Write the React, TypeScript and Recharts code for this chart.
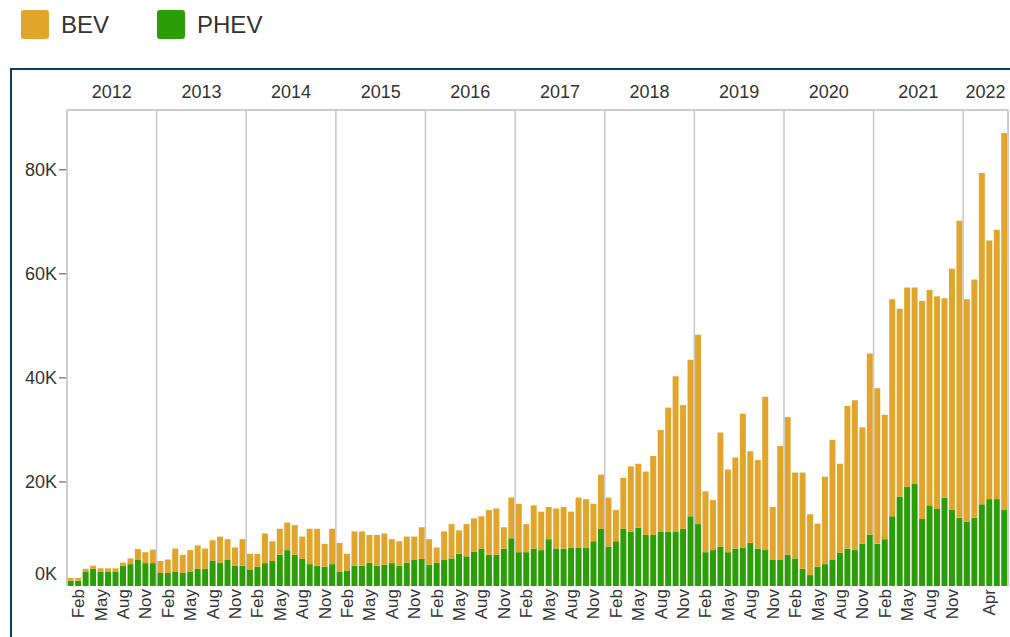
import { Bar, BarChart, XAxis, YAxis } from "recharts";

// monthly EV sales, thousands of vehicles
const years = [2012, 2013, 2014, 2015, 2016, 2017, 2018, 2019, 2020, 2021, 2022];
const monthNames = ["Jan", "Feb", "Mar", "Apr", "May", "Jun", "Jul", "Aug", "Sep", "Oct", "Nov", "Dec"];

const phevK = [
  [1.0, 1.0, 2.8, 3.3, 2.8, 2.8, 2.8, 3.9, 4.2, 5.0, 4.4, 4.4],
  [2.5, 2.5, 2.8, 2.5, 2.8, 3.3, 3.3, 4.9, 4.5, 5.1, 3.9, 3.9],
  [3.2, 3.7, 4.4, 4.8, 6.0, 6.9, 6.0, 5.2, 4.2, 3.9, 3.7, 4.2],
  [2.7, 3.0, 3.9, 3.9, 4.5, 3.9, 4.1, 4.4, 3.9, 4.5, 5.1, 5.2],
  [4.1, 4.5, 5.1, 5.3, 6.2, 5.7, 6.6, 7.2, 6.0, 6.0, 7.2, 9.2],
  [6.5, 6.5, 7.2, 6.9, 9.0, 7.2, 7.2, 7.4, 7.4, 7.4, 8.6, 11.0],
  [7.6, 8.6, 11.0, 10.4, 11.2, 9.8, 9.8, 10.4, 10.4, 10.4, 11.0, 13.4],
  [11.9, 6.5, 6.9, 7.6, 6.5, 7.2, 7.4, 8.3, 7.2, 6.9, 5.1, 5.1],
  [6.0, 5.3, 3.3, 2.1, 3.7, 4.2, 5.1, 6.4, 7.2, 6.9, 8.1, 9.9],
  [8.1, 9.0, 13.4, 17.2, 19.1, 19.6, 12.9, 15.5, 14.8, 17.0, 14.6, 13.1],
  [12.4, 13.1, 15.7, 16.7, 16.7, 14.6],
];

const bevK = [
  [0.55, 0.55, 0.5, 0.6, 0.6, 0.6, 0.6, 0.6, 1.1, 2.1, 2.1, 2.6],
  [2.3, 2.6, 4.4, 3.5, 4.1, 4.5, 3.9, 3.9, 5.0, 3.9, 3.5, 5.1],
  [3.0, 2.5, 5.7, 3.8, 5.0, 5.3, 5.7, 4.3, 6.8, 7.1, 4.4, 6.8],
  [5.6, 3.2, 6.6, 6.6, 5.3, 5.9, 6.0, 4.6, 4.7, 5.0, 4.4, 6.1],
  [4.9, 2.9, 5.4, 6.6, 4.5, 6.2, 6.4, 6.2, 8.6, 8.9, 4.1, 7.8],
  [9.3, 5.4, 8.3, 7.4, 6.2, 7.7, 8.0, 6.9, 9.6, 9.3, 7.2, 10.4],
  [9.4, 6.0, 9.8, 12.6, 12.3, 12.2, 15.2, 19.6, 23.9, 29.9, 23.8, 30.1],
  [36.4, 11.7, 9.6, 21.9, 15.9, 17.5, 25.7, 17.6, 17.0, 29.5, 10.1, 21.8],
  [26.5, 16.5, 18.5, 11.7, 8.3, 16.8, 23.0, 17.1, 27.4, 28.8, 22.4, 34.8],
  [29.9, 23.9, 41.7, 36.1, 38.3, 37.8, 41.9, 41.4, 40.9, 38.3, 46.4, 57.1],
  [42.7, 45.8, 63.7, 49.7, 51.8, 72.5],
];

const yTicks = [0, 20, 40, 60, 80];
const monthLabels = ["Feb", "May", "Aug", "Nov"];
const lastYearLabels = ["Apr"];

const BEV_COLOR = "#E2A52C";
const PHEV_COLOR = "#2B9E07";
const TEXT = "#333333";
const FONT = "Arial, 'Liberation Sans', sans-serif";

const W = 1010;
const H = 637;
const MARGIN = { top: 70, right: 1, bottom: 1, left: 10 };
const YEAR_AXIS_H = 40;
const MONTH_AXIS_H = 50;
const Y_AXIS_W = 57;
const PLOT_LEFT = MARGIN.left + Y_AXIS_W;
const PLOT_TOP = MARGIN.top + YEAR_AXIS_H;
const PLOT_BOTTOM = H - MARGIN.bottom - MONTH_AXIS_H;
const PLOT_W = W - PLOT_LEFT - MARGIN.right - 1;

const data = years.flatMap((yr, yi) =>
  phevK[yi].map((p, mi) => ({
    key: `${yr}-${mi + 1}`,
    year: yr,
    month: monthNames[mi],
    PHEV: p,
    BEV: bevK[yi][mi],
  }))
);

const lastYear = years[years.length - 1];
const monthTicks = data
  .filter((d) => (d.year === lastYear ? lastYearLabels : monthLabels).includes(d.month))
  .map((d) => d.key);
const yearTicks = data.filter((d) => d.month === "Jan").map((d) => d.key);
const HALF_STEP = PLOT_W / data.length / 2;

function YearTick(props: any) {
  const { x, payload, index } = props;
  const half = payload?.offset || HALF_STEP;
  const yr = Number(String(payload.value).slice(0, 4));
  const count = data.filter((d) => d.year === yr).length;
  const left = x - half;
  return (
    <g>
      {index > 0 && (
        <line x1={left} x2={left} y1={PLOT_TOP} y2={PLOT_BOTTOM} stroke="#c8c8c8" strokeWidth={1.5} />
      )}
      <text x={left + count * half} y={PLOT_TOP - 12} textAnchor="middle" fontSize={18} fill={TEXT} fontFamily={FONT}>
        {yr}
      </text>
    </g>
  );
}

function MonthTick(props: any) {
  const { x, payload } = props;
  const d = data.find((r) => r.key === payload.value);
  return (
    <text
      transform={`translate(${x},${PLOT_BOTTOM + 3}) rotate(-90)`}
      textAnchor="end"
      dy="0.35em"
      fontSize={17}
      fill={TEXT}
      fontFamily={FONT}
    >
      {d?.month}
    </text>
  );
}

// 0K sits a little above the baseline and has no dash, like the original
function ValueTick(props: any) {
  const { y, payload } = props;
  const isZero = payload.value === 0;
  return (
    <g>
      {!isZero && <line x1={PLOT_LEFT - 8} x2={PLOT_LEFT - 1} y1={y} y2={y} stroke="#444" strokeWidth={1} />}
      <text
        x={PLOT_LEFT - 10}
        y={y + (isZero ? -12 : 0)}
        dy="0.35em"
        textAnchor="end"
        fontSize={18}
        fill={TEXT}
        fontFamily={FONT}
      >
        {payload.value}K
      </text>
    </g>
  );
}

function LegendItem({ color, label }: { color: string; label: string }) {
  return (
    <div style={{ display: "flex", alignItems: "center", marginRight: 48 }}>
      <div style={{ width: 28, height: 29, background: color, borderRadius: 3, marginRight: 12 }} />
      <span style={{ fontSize: 24, color: TEXT }}>{label}</span>
    </div>
  );
}

export default function App() {
  return (
    <div style={{ position: "absolute", left: 0, top: 0, width: W, height: H, background: "#fff", fontFamily: FONT, overflow: "hidden" }}>
      <div style={{ position: "absolute", left: 21, top: 10, display: "flex" }}>
        <LegendItem color={BEV_COLOR} label="BEV" />
        <LegendItem color={PHEV_COLOR} label="PHEV" />
      </div>
      <div
        style={{
          position: "absolute",
          left: 10,
          top: 68,
          width: W,
          height: H,
          borderTop: "2px solid #0e3c61",
          borderLeft: "2px solid #0e3c61",
        }}
      />
      <div style={{ position: "absolute", left: 0, top: 0 }}>
        <BarChart width={W} height={H} data={data} margin={MARGIN} barCategoryGap={0.7}>
          <XAxis
            xAxisId="year"
            orientation="top"
            dataKey="key"
            ticks={yearTicks}
            interval={0}
            height={YEAR_AXIS_H}
            axisLine={{ stroke: "#cccccc", strokeWidth: 2 }}
            tickLine={false}
            tick={<YearTick />}
          />
          <XAxis
            dataKey="key"
            ticks={monthTicks}
            interval={0}
            height={MONTH_AXIS_H}
            axisLine={false}
            tickLine={false}
            tick={<MonthTick />}
          />
          <YAxis
            domain={[0, 91.5]}
            ticks={yTicks}
            width={Y_AXIS_W}
            axisLine={{ stroke: "#cccccc", strokeWidth: 2 }}
            tickLine={false}
            tick={<ValueTick />}
          />
          <YAxis
            yAxisId="right"
            orientation="right"
            width={1}
            tick={false}
            tickLine={false}
            axisLine={{ stroke: "#cccccc", strokeWidth: 2 }}
          />
          <Bar dataKey="PHEV" stackId="ev" fill={PHEV_COLOR} isAnimationActive={false} />
          <Bar dataKey="BEV" stackId="ev" fill={BEV_COLOR} isAnimationActive={false} />
        </BarChart>
      </div>
    </div>
  );
}
